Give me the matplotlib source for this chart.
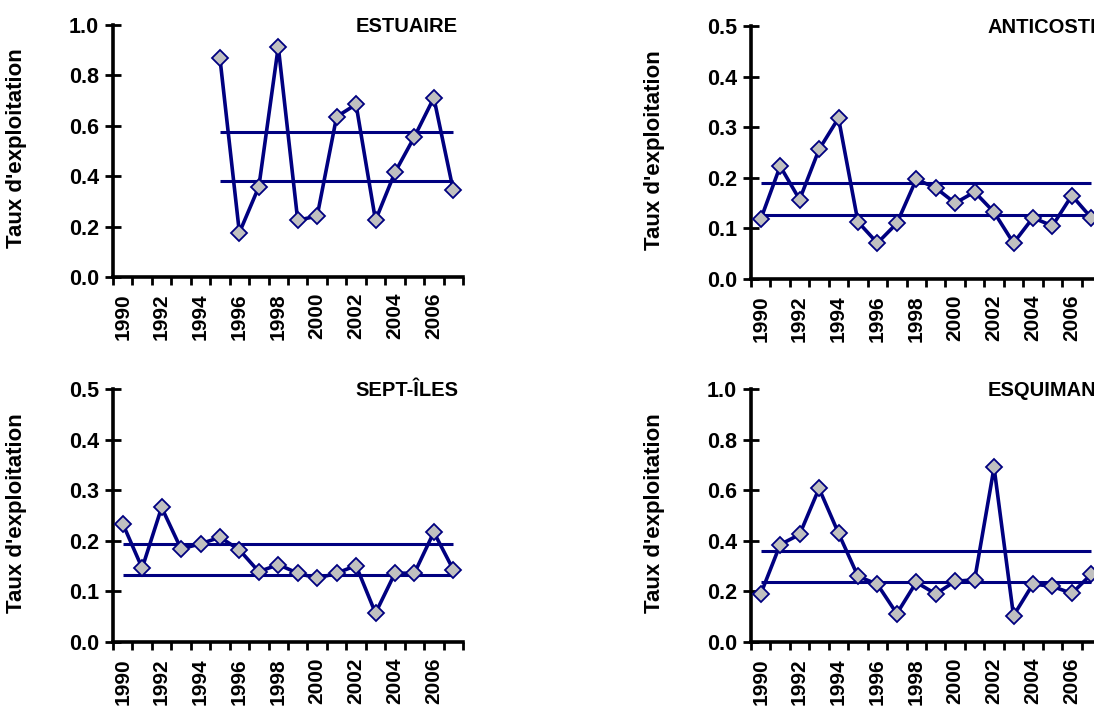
import matplotlib
matplotlib.use("Agg")
import matplotlib.pyplot as plt
from matplotlib.ticker import FormatStrFormatter, FixedLocator
import numpy as np

plt.rcParams['font.family'] = ['Liberation Sans', 'DejaVu Sans']
plt.rcParams['font.weight'] = 'bold'

years = list(range(1990, 2008))
year_labels = [str(y) for y in range(1990, 2007, 2)]

estuaire_years = list(range(1995, 2008))
estuaire = [0.868, 0.176, 0.358, 0.914, 0.225, 0.242, 0.636, 0.685, 0.225, 0.415, 0.556, 0.711, 0.344]
estuaire_lines = [0.574, 0.381]

anticosti = [0.118, 0.223, 0.157, 0.256, 0.318, 0.113, 0.071, 0.110, 0.197, 0.180,
             0.150, 0.172, 0.132, 0.071, 0.121, 0.105, 0.165, 0.121]
anticosti_lines = [0.189, 0.126]

septiles = [0.234, 0.146, 0.266, 0.184, 0.194, 0.207, 0.182, 0.139, 0.153, 0.136,
            0.126, 0.136, 0.151, 0.057, 0.136, 0.136, 0.217, 0.143]
septiles_lines = [0.194, 0.132]

esquiman = [0.190, 0.385, 0.425, 0.607, 0.430, 0.260, 0.228, 0.112, 0.236, 0.190,
            0.240, 0.246, 0.690, 0.104, 0.229, 0.220, 0.192, 0.268]
esquiman_lines = [0.360, 0.237]

W, H = 1094, 707
fig = plt.figure(figsize=(W / 100, H / 100), dpi=100)

NAVY = '#000080'
FS_TICK = 15.5
FS_YEAR = 15
FS_LAB = 16
FS_TITLE = 14.5

panels = [
    ("ESTUAIRE", estuaire_years, estuaire, estuaire_lines, 1.0, 0.2, (113, 25, 277)),
    ("ANTICOSTI", years, anticosti, anticosti_lines, 0.5, 0.1, (751, 26, 279)),
    ("SEPT-ÎLES", years, septiles, septiles_lines, 0.5, 0.1, (113, 389, 642)),
    ("ESQUIMAN", years, esquiman, esquiman_lines, 1.0, 0.2, (751, 389, 642)),
]

AXW = 350
for title, xs, vals, lines, ymax, ystep, (lp, tp, bp) in panels:
    ax = fig.add_axes([lp / W, (H - bp) / H, AXW / W, (bp - tp) / H])
    xpos = [years.index(y) + 0.5 for y in xs]
    for lv in lines:
        ax.plot([xpos[0], xpos[-1]], [lv, lv], color=NAVY, lw=2.2, zorder=2,
                solid_capstyle='butt')
    ax.plot(xpos, vals, color=NAVY, lw=2.6, marker='D', markersize=8.2,
            markerfacecolor='#C0C0C0', markeredgecolor=NAVY, markeredgewidth=1.3,
            zorder=3, clip_on=False)
    ax.set_xlim(0, len(years))
    ax.set_ylim(0, ymax)
    for s in ['top', 'right']:
        ax.spines[s].set_visible(False)
    for s in ['left', 'bottom']:
        ax.spines[s].set_linewidth(2.6)
        ax.spines[s].set_capstyle('projecting')
    ax.set_yticks(np.round(np.arange(0, ymax + ystep / 2, ystep), 2))
    ax.yaxis.set_major_formatter(FormatStrFormatter('%.1f'))
    ax.tick_params(axis='y', direction='inout', length=11, width=2.0, pad=4.5,
                   labelsize=FS_TICK)
    ax.set_xticks(range(len(years) + 1))
    ax.set_xticklabels([])
    ax.xaxis.set_minor_locator(FixedLocator([years.index(int(l)) + 0.5 for l in year_labels]))
    ax.set_xticklabels(year_labels, minor=True, rotation=90, fontsize=FS_YEAR,
                       fontweight='bold')
    ax.tick_params(axis='x', which='major', direction='out', length=5.5, width=2.0)
    ax.tick_params(axis='x', which='minor', length=0, pad=11.5)
    for lab in ax.get_yticklabels():
        lab.set_fontweight('bold')
    ax.set_ylabel("Taux d'exploitation", fontsize=FS_LAB, fontweight='bold')
    ax.yaxis.set_label_coords(-0.246, 0.51)
    ax.text(0.986, 0.974, title, transform=ax.transAxes, ha='right', va='baseline',
            fontsize=FS_TITLE, fontweight='bold', clip_on=False)
    ax.patch.set_alpha(0)

fig.savefig("out.png", dpi=100)
